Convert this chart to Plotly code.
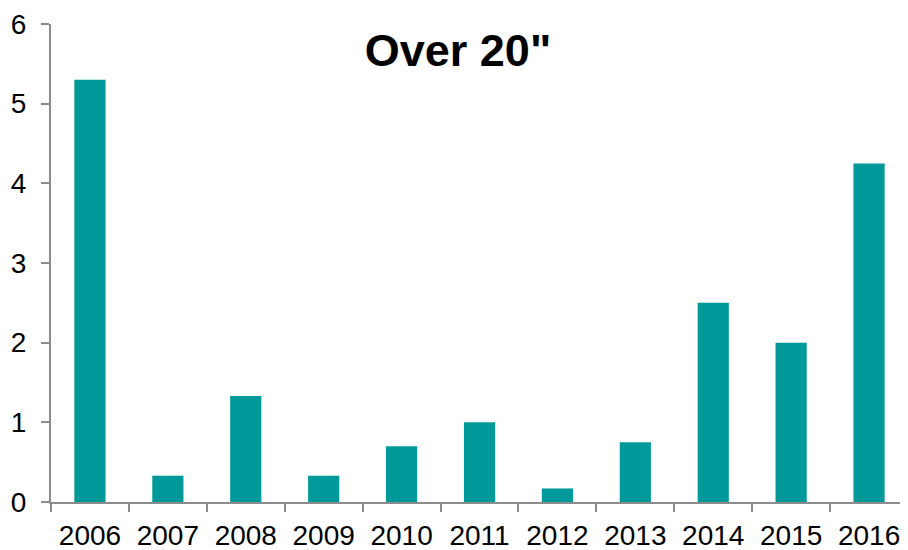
import plotly.graph_objects as go

years = ["2006", "2007", "2008", "2009", "2010", "2011", "2012", "2013", "2014", "2015", "2016"]
values = [5.3, 0.33, 1.33, 0.33, 0.7, 1.0, 0.17, 0.75, 2.5, 2.0, 4.25]
title_text = 'Over 20"'

BAR = "#009999"
AXIS = "#8c8c8c"
FONT = "Liberation Sans, Arial, sans-serif"

fig = go.Figure(go.Bar(x=years, y=values, marker=dict(color=BAR, line=dict(width=0))))

# page body has an 8px margin, so the figure is sized to end at the window edge
fig.update_layout(
    width=900, height=542,
    margin=dict(l=43, r=0, t=16, b=48),
    paper_bgcolor="white", plot_bgcolor="white",
    bargap=0.6,
    showlegend=False,
    font=dict(family=FONT, size=28, color="black"),
    title=dict(text="<b>" + title_text + "</b>", x=0.5, xanchor="center",
               y=0.951, yanchor="top", yref="container",
               font=dict(family=FONT, size=45, color="black")),
)
fig.update_xaxes(
    type="category", automargin=False,
    showline=True, linecolor=AXIS, linewidth=2,
    ticks="outside", tickson="boundaries", ticklen=8, tickcolor=AXIS, tickwidth=2,
    showgrid=False, tickfont=dict(size=28), ticklabelstandoff=7,
)
fig.update_yaxes(
    range=[0, 6], dtick=1, automargin=False,
    showline=True, linecolor=AXIS, linewidth=2,
    ticks="outside", ticklen=8, tickcolor=AXIS, tickwidth=2,
    showgrid=False, zeroline=False, tickfont=dict(size=28), ticklabelstandoff=9,
)

fig.write_html("out.html")
